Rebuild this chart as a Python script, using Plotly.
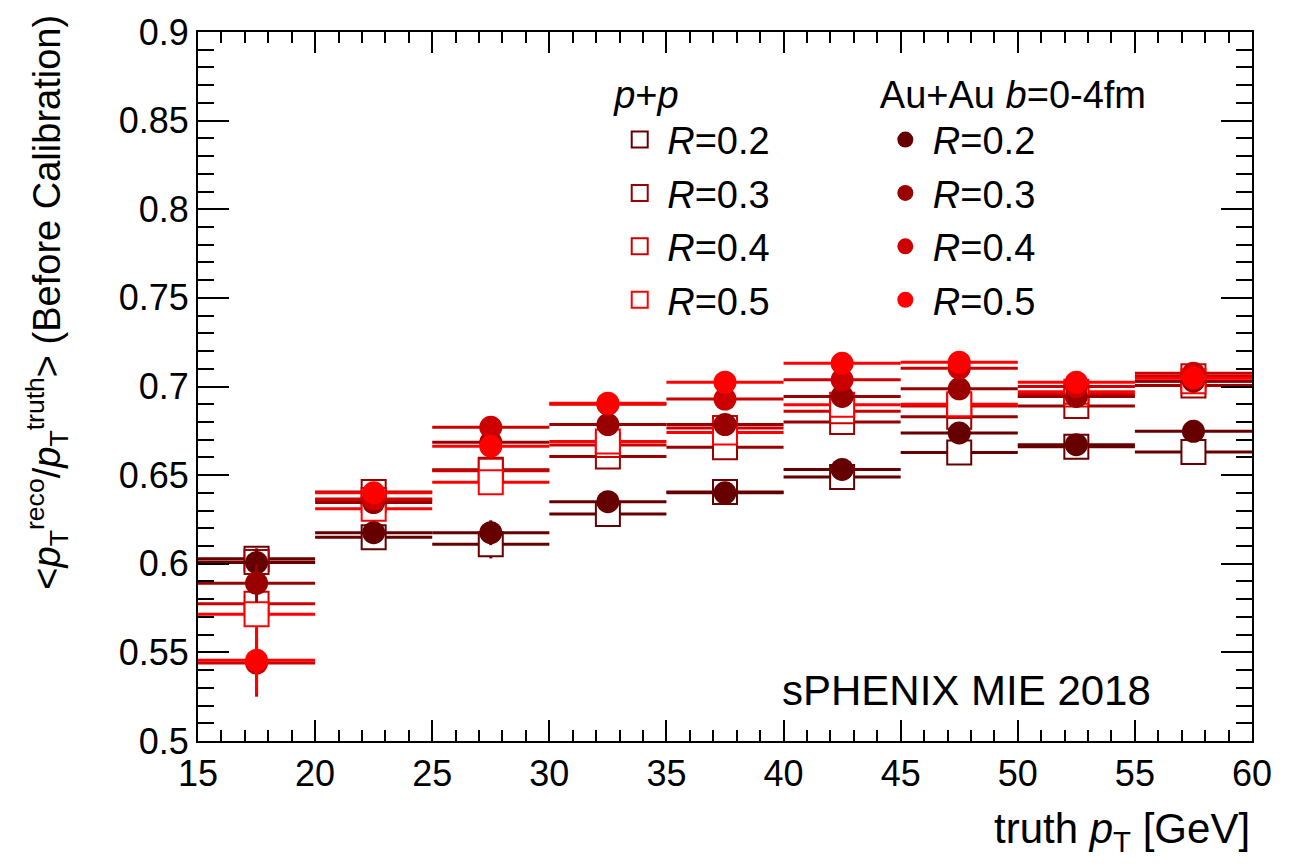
import plotly.graph_objects as go

# truth pT bin centres and half-widths [GeV]
pt_centers = [17.5, 22.5, 27.5, 32.5, 37.5, 42.5, 47.5, 52.5, 57.5]
pt_halfwidth = [2.5] * 9

radii = ["0.2", "0.3", "0.4", "0.5"]
colors = ["#660000", "#990000", "#cc0000", "#ff0000"]

# p+p : <pT reco / pT truth> per jet radius
pp_r02 = [0.6028, 0.6150, 0.6110, 0.6280, 0.6405, 0.6489, 0.6627, 0.6660, 0.6630]
pp_r03 = [0.6010, 0.6405, 0.6530, 0.6605, 0.6657, 0.6800, 0.6830, 0.6890, 0.7005]
pp_r04 = [0.5775, 0.6360, 0.6525, 0.6670, 0.6766, 0.6860, 0.6890, 0.6955, 0.7058]
pp_r05 = [0.5715, 0.6310, 0.6460, 0.6690, 0.6740, 0.6897, 0.6900, 0.6970, 0.7030]
pp_err = [
    [0.003, 0.002, 0.008, 0.003, 0.002, 0.002, 0.002, 0.002, 0.002],
    [0.003, 0.002, 0.003, 0.002, 0.002, 0.002, 0.002, 0.002, 0.002],
    [0.004, 0.003, 0.003, 0.002, 0.002, 0.002, 0.002, 0.002, 0.002],
    [0.004, 0.003, 0.003, 0.002, 0.002, 0.002, 0.002, 0.002, 0.002],
]

# Au+Au, b = 0-4 fm
auau_r02 = [0.6007, 0.6175, 0.6175, 0.6350, 0.6400, 0.6532, 0.6738, 0.6672, 0.6747]
auau_r03 = [0.5890, 0.6345, 0.6685, 0.6785, 0.6785, 0.6944, 0.6987, 0.6944, 0.7030]
auau_r04 = [0.5440, 0.6365, 0.6770, 0.6900, 0.6929, 0.7038, 0.7103, 0.7000, 0.7075]
auau_r05 = [0.5455, 0.6400, 0.6663, 0.6906, 0.7024, 0.7131, 0.7137, 0.7024, 0.7047]
auau_err = [
    [0.008, 0.005, 0.007, 0.005, 0.004, 0.004, 0.004, 0.004, 0.004],
    [0.011, 0.005, 0.005, 0.005, 0.004, 0.004, 0.004, 0.004, 0.004],
    [0.019, 0.005, 0.005, 0.005, 0.004, 0.004, 0.004, 0.004, 0.004],
    [0.019, 0.005, 0.005, 0.005, 0.004, 0.004, 0.004, 0.004, 0.004],
]

pp_values = [pp_r02, pp_r03, pp_r04, pp_r05]
auau_values = [auau_r02, auau_r03, auau_r04, auau_r05]

FONT = "Liberation Sans, Arial, Helvetica, sans-serif"
TICK_SIZE = 36
TITLE_SIZE = 38
TEXT_SIZE = 42
LEG_SIZE = 38

fig = go.Figure()

# p+p : open squares (white interior hides the horizontal bar behind the marker)
for i, (r, c) in enumerate(zip(radii, colors)):
    fig.add_trace(go.Scatter(
        x=pt_centers, y=pp_values[i], mode="markers",
        name=f"<i>R</i>={r}", legend="legend", legendgroup=f"pp{r}",
        marker=dict(symbol="square", size=24, color="white",
                    line=dict(color=c, width=2)),
        error_x=dict(type="data", array=pt_halfwidth, color=c, thickness=3, width=0),
        error_y=dict(type="data", array=pp_err[i], color=c, thickness=3, width=0),
    ))

# Au+Au : full circles
for i, (r, c) in enumerate(zip(radii, colors)):
    fig.add_trace(go.Scatter(
        x=pt_centers, y=auau_values[i], mode="markers",
        name=f"<i>R</i>={r}", legend="legend2", legendgroup=f"auau{r}",
        marker=dict(symbol="circle", size=23, color=c, line=dict(width=0)),
        error_x=dict(type="data", array=pt_halfwidth, color=c, thickness=3, width=0),
        error_y=dict(type="data", array=auau_err[i], color=c, thickness=3, width=0),
    ))

axis_common = dict(
    showgrid=False, zeroline=False, showline=True, linecolor="black", linewidth=2,
    mirror="allticks", ticks="inside", tickcolor="black", tickwidth=1.5,
    tickfont=dict(family=FONT, size=TICK_SIZE, color="black"),
)

legend_common = dict(
    font=dict(family=FONT, size=LEG_SIZE, color="black"),
    bgcolor="rgba(0,0,0,0)", borderwidth=0,
    xanchor="left", yanchor="top", tracegroupgap=1,
    itemwidth=45, itemclick=False, itemdoubleclick=False,
)

fig.update_layout(
    width=1299, height=867,
    margin=dict(l=198, r=47, t=29, b=126),
    paper_bgcolor="white", plot_bgcolor="white",
    font=dict(family=FONT, color="black"),
    showlegend=True,
    xaxis=dict(range=[15, 60], dtick=5, ticklen=21,
               minor=dict(dtick=1, ticks="inside", ticklen=11, tickcolor="black", tickwidth=1.5),
               **axis_common),
    yaxis=dict(range=[0.5, 0.9], dtick=0.05, ticklen=31,
               minor=dict(dtick=0.01, ticks="inside", ticklen=16, tickcolor="black", tickwidth=1.5),
               **axis_common),
    legend=dict(x=0.393, y=0.962,
                title=dict(text="<i>p</i>+<i>p</i>", font=dict(family=FONT, size=LEG_SIZE)),
                **legend_common),
    legend2=dict(x=0.645, y=0.962,
                 title=dict(text="Au+Au <i>b</i>=0-4fm", font=dict(family=FONT, size=LEG_SIZE)),
                 **legend_common),
    annotations=[
        dict(text="&lt;<i>p</i><sub>T</sub><sup>reco</sup>/<i>p</i><sub>T</sub><sup>truth</sup>&gt; (Before Calibration)",
             xref="paper", yref="paper", x=-0.143, y=1.027, xanchor="center", yanchor="top",
             textangle=-90, showarrow=False,
             font=dict(family=FONT, size=TITLE_SIZE, color="black")),
        dict(text="truth <i>p</i><sub>T</sub> [GeV]",
             xref="paper", yref="paper", x=1.0, y=-0.128, xanchor="right", yanchor="middle",
             showarrow=False, font=dict(family=FONT, size=TEXT_SIZE, color="black")),
        dict(text="sPHENIX MIE 2018",
             xref="paper", yref="paper", x=0.552, y=0.0716, xanchor="left", yanchor="middle",
             showarrow=False, font=dict(family=FONT, size=TEXT_SIZE, color="black")),
    ],
)

fig.write_html("out.html")
